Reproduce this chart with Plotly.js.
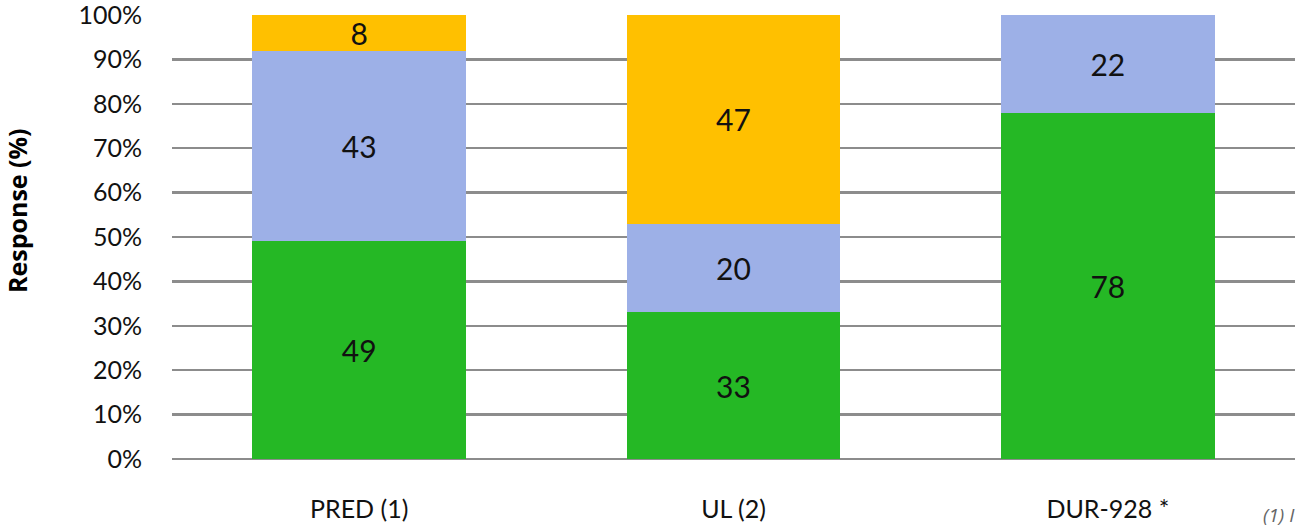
<!DOCTYPE html>
<html>
<head>
<meta charset="utf-8">
<script src="https://cdn.plot.ly/plotly-3.0.1.min.js"></script>
<style>html,body{margin:0;padding:0;background:#fff;}#chart{width:1297px;height:530px;}</style>
</head>
<body>
<div id="chart"></div>
<script>
const categories = ["PRED (1)", "UL (2)", "DUR-928 *"];
const seriesGreen = [49, 33, 78];
const seriesBlue = [43, 20, 22];
const seriesOrange = [8, 47, null];
const yTicks = [0, 10, 20, 30, 40, 50, 60, 70, 80, 90, 100];

const FONT = "Lato, 'Open Sans', sans-serif";
function seg(vals, color) {
  return {
    type: "bar", x: categories, y: vals,
    marker: {color: color, line: {width: 0}},
    text: vals.map(v => v == null ? "" : String(v)),
    textposition: "inside", insidetextanchor: "middle", textangle: 0,
    constraintext: "none",
    textfont: {family: FONT, size: 30, color: "#111"},
    hoverinfo: "none", showlegend: false
  };
}
const data = [seg(seriesGreen, "#25b825"), seg(seriesBlue, "#9db0e7"), seg(seriesOrange, "#ffc000")];
const layout = {
  width: 1297, height: 530,
  margin: {l: 172, r: 2, t: 15, b: 71},
  barmode: "stack", bargap: 0.43,
  paper_bgcolor: "#fff", plot_bgcolor: "#fff",
  font: {family: FONT, color: "#111"},
  xaxis: {
    type: "category", range: [-0.5, 2.5], showgrid: false, zeroline: false,
    showline: false, ticks: "", ticklabelstandoff: 33,
    tickfont: {family: "Lato, 'Open Sans', sans-serif", size: 25, color: "#111"}
  },
  yaxis: {
    range: [0, 100], tickvals: yTicks, ticktext: yTicks.map(v => v + "%"),
    showgrid: true, gridcolor: "#8c8c8c", gridwidth: 2.5,
    zeroline: true, zerolinecolor: "#8c8c8c", zerolinewidth: 2.5,
    showline: false, ticks: "", ticklabelstandoff: 29,
    ticklabeloverflow: "allow",
    tickfont: {family: FONT, size: 25, color: "#111"}
  },
  annotations: [
    {text: "<b>Response (%)</b>", xref: "paper", yref: "paper", x: 0, y: 0.5,
     xanchor: "center", yanchor: "middle",
     xshift: -155, yshift: 26, textangle: -90, showarrow: false,
     font: {family: "'Open Sans', sans-serif", size: 25, color: "#000"}},
    {text: "<i>(1) I</i>", xref: "paper", yref: "paper", x: 1, y: 0,
     xanchor: "right", yanchor: "middle", xshift: 2, yshift: -56, showarrow: false,
     font: {family: "'Open Sans', sans-serif", size: 19, color: "#666"}}
  ]
};
Plotly.newPlot("chart", data, layout, {displayModeBar: false, staticPlot: true});
</script>
</body>
</html>
